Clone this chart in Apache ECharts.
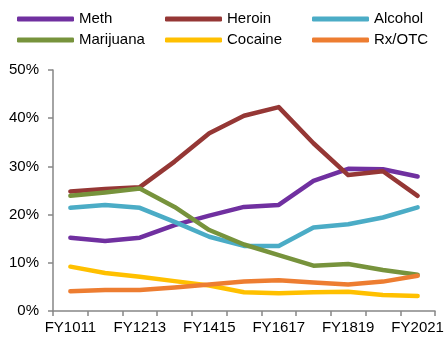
<!DOCTYPE html>
<html>
<head>
<meta charset="utf-8">
<script src="https://cdn.jsdelivr.net/npm/echarts@6/dist/echarts.min.js"></script>
<style>
  html, body { margin: 0; padding: 0; background: #fff; }
  #chart { width: 447px; height: 346px; }
</style>
</head>
<body>
<div id="chart"></div>
<script>
// Fiscal years (FY1011 = 2010-11 ... FY2021 = 2020-21)
const years = ['FY1011', 'FY1112', 'FY1213', 'FY1314', 'FY1415', 'FY1516',
               'FY1617', 'FY1718', 'FY1819', 'FY1920', 'FY2021'];

// Share of treatment admissions by primary substance (%)
const meth      = [15.2, 14.5, 15.2, 17.8, 19.8, 21.6, 22.0, 27.0, 29.5, 29.4, 27.9];
const heroin    = [24.8, 25.3, 25.7, 31.0, 36.9, 40.5, 42.3, 34.8, 28.2, 29.0, 23.9];
const alcohol   = [21.4, 22.0, 21.4, 18.5, 15.4, 13.5, 13.5, 17.3, 18.0, 19.4, 21.5];
const marijuana = [23.9, 24.6, 25.4, 21.6, 16.8, 13.8, 11.6, 9.4, 9.75, 8.5, 7.5];
const cocaine   = [9.2, 7.9, 7.1, 6.2, 5.3, 3.9, 3.7, 3.9, 4.0, 3.3, 3.1];
const rxOtc     = [4.1, 4.35, 4.35, 4.9, 5.5, 6.1, 6.4, 5.9, 5.5, 6.1, 7.3];

const yTicks = [0, 10, 20, 30, 40, 50];

const seriesDefs = [
  { name: 'Meth',      data: meth,      color: '#7030A0' },
  { name: 'Heroin',    data: heroin,    color: '#953735' },
  { name: 'Alcohol',   data: alcohol,   color: '#4BACC6' },
  { name: 'Marijuana', data: marijuana, color: '#77933C' },
  { name: 'Cocaine',   data: cocaine,   color: '#FFC000' },
  { name: 'Rx/OTC',    data: rxOtc,     color: '#ED7D31' }
];

const FONT = '"Liberation Sans", Arial, sans-serif';
const axisGrey = '#868686';

function legendColumn(names, left) {
  return {
    orient: 'vertical',
    left: left,
    top: 11,
    data: names,
    icon: 'roundRect',
    itemWidth: 57,
    itemHeight: 5,
    itemGap: 5,
    itemTextGap: 4,
    padding: 0,
    textStyle: { fontFamily: FONT, fontSize: 15, color: '#000', lineHeight: 16 }
  };
}

const chart = echarts.init(document.getElementById('chart'), null, { renderer: 'canvas' });

chart.setOption({
  animation: false,
  backgroundColor: '#fff',
  legend: [
    legendColumn(['Meth', 'Marijuana'], 17),
    legendColumn(['Heroin', 'Cocaine'], 165),
    legendColumn(['Alcohol', 'Rx/OTC'], 312)
  ],
  grid: { left: 53, right: 12, top: 70, bottom: 35, containLabel: false },
  xAxis: {
    type: 'category',
    data: years,
    boundaryGap: true,
    axisLine: { lineStyle: { color: axisGrey, width: 1.5 } },
    axisTick: { show: true, length: 5, alignWithLabel: false, interval: 0,
                lineStyle: { color: axisGrey, width: 1.5 } },
    axisLabel: { interval: 1, margin: 9, fontFamily: FONT, fontSize: 15, color: '#000' },
    splitLine: { show: false }
  },
  yAxis: {
    type: 'value',
    min: yTicks[0],
    max: yTicks[yTicks.length - 1],
    interval: 10,
    axisLine: { show: true, lineStyle: { color: axisGrey, width: 1.5 } },
    axisTick: { show: true, length: 5, lineStyle: { color: axisGrey, width: 1.5 } },
    axisLabel: { margin: 14, fontFamily: FONT, fontSize: 15, color: '#000',
                 formatter: v => v + '%' },
    splitLine: { show: false }
  },
  series: seriesDefs.map(s => ({
    name: s.name,
    type: 'line',
    data: s.data,
    color: s.color,
    showSymbol: false,
    symbol: 'none',
    lineStyle: { width: 4.5, color: s.color, cap: 'round', join: 'round' },
    itemStyle: { color: s.color }
  }))
});
</script>
</body>
</html>
